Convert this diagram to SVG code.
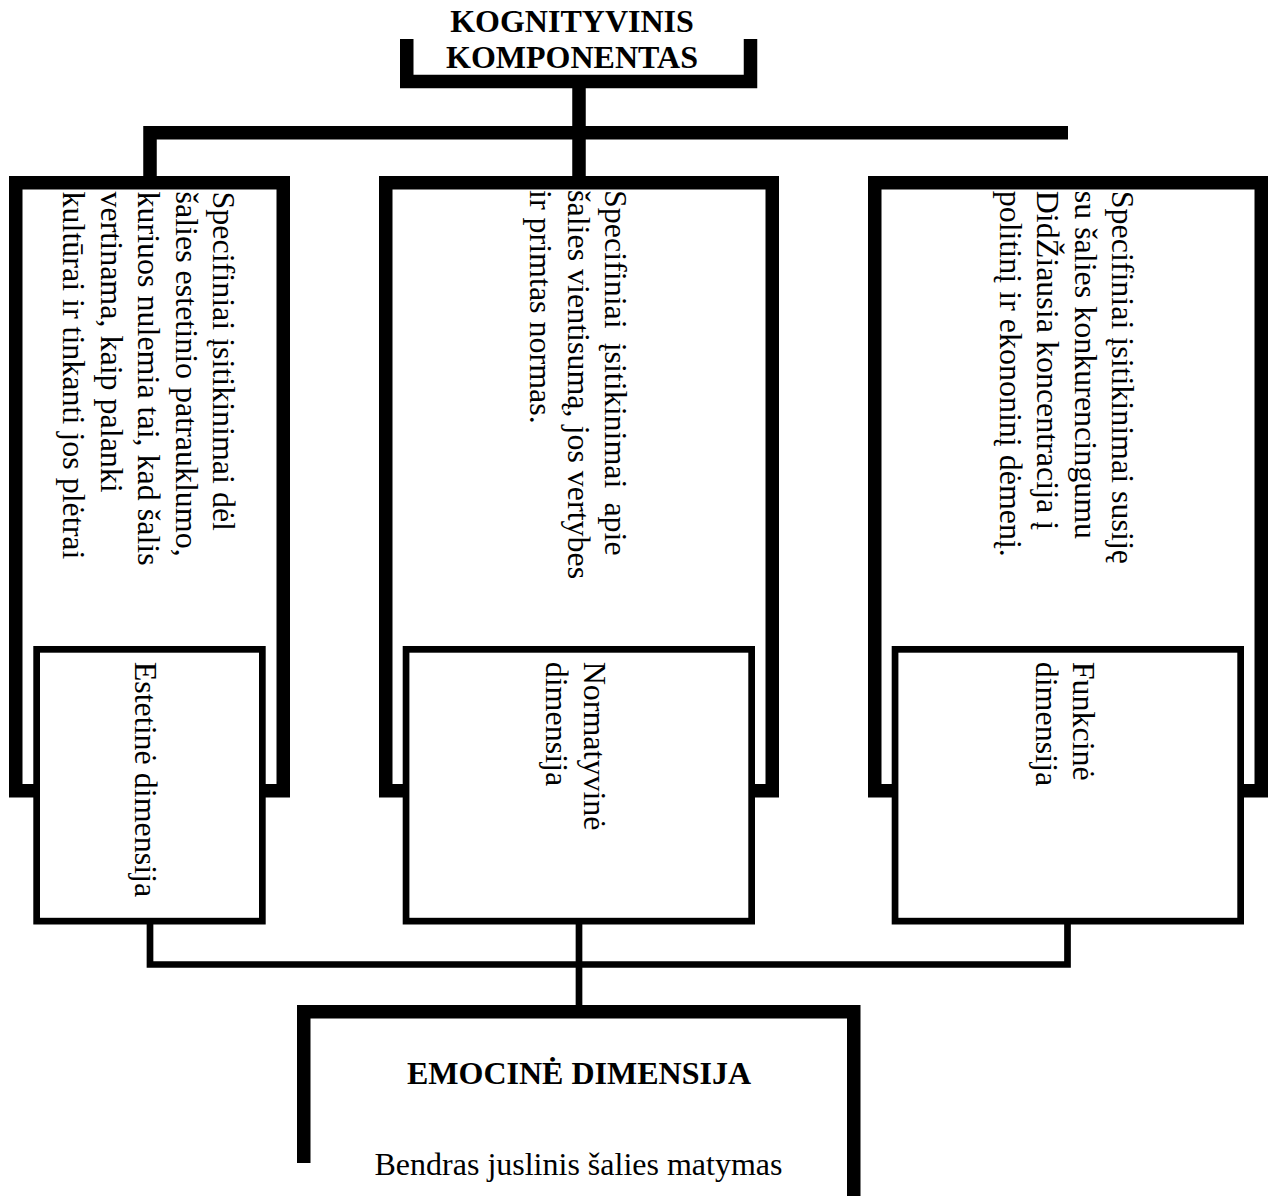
<svg xmlns="http://www.w3.org/2000/svg" width="1276" height="1196" viewBox="0 0 1276 1196">
<style>
.t{font-family:"Liberation Serif","Times New Roman",serif;font-size:32px;fill:#000}
.b{font-weight:bold}
.thick{fill:none;stroke:#000;stroke-width:13.5;stroke-linejoin:miter}
.thin{fill:none;stroke:#000;stroke-width:6.7;stroke-linejoin:miter}
.big{fill:#fff;stroke:#000;stroke-width:13.5}
.small{fill:#fff;stroke:#000;stroke-width:6.7}
</style>
<rect width="1276" height="1196" fill="#fff"/>
<g id="connectors">
<path class="thick" d="M579,88 V176"/>
<path class="thick" d="M150,176 V132.75 H1068"/>
<path class="thin" d="M150,924 V964.5 H1067.5 V924"/>
<path class="thin" d="M579,924 V1006"/>
</g>
<g id="kognityvinis">
<path class="thick" d="M406.75,39 V81.5 H750.5 V39"/>
<text class="t b" x="572" y="31.7" text-anchor="middle">KOGNITYVINIS</text>
<text class="t b" x="572" y="68.3" text-anchor="middle">KOMPONENTAS</text>
</g>
<g id="box-estetine">
<rect class="big" x="15.75" y="182.75" width="267.5" height="608"/>
<text class="t" transform="translate(213.3,191.5) rotate(90)">Specifiniai įsitikinimai dėl</text>
<text class="t" transform="translate(175.8,191.5) rotate(90)">šalies estetinio patrauklumo,</text>
<text class="t" transform="translate(138.3,191.5) rotate(90)">kuriuos nulemia tai, kad šalis</text>
<text class="t" transform="translate(100.8,191.5) rotate(90)">vertinama, kaip palanki</text>
<text class="t" transform="translate(63.3,191.5) rotate(90)">kultūrai ir tinkanti jos plėtrai</text>
</g>
<g id="box-normatyvine">
<rect class="big" x="385.75" y="182.75" width="386.5" height="608"/>
<text class="t" transform="translate(605,190) rotate(90)" word-spacing="6">Specifiniai įsitikinimai apie</text>
<text class="t" transform="translate(567.5,190) rotate(90)">šalies vientisumą, jos vertybes</text>
<text class="t" transform="translate(530,190) rotate(90)">ir primtas normas.</text>
</g>
<g id="box-funkcine">
<rect class="big" x="874.75" y="182.75" width="386.5" height="608"/>
<text class="t" transform="translate(1112,190.7) rotate(90)">Specifiniai įsitikinimai susiję</text>
<text class="t" transform="translate(1074.5,190.7) rotate(90)">su šalies konkurencingumu</text>
<text class="t" transform="translate(1037,190.7) rotate(90)">DidŽiausia koncentracija į</text>
<text class="t" transform="translate(999.5,190.7) rotate(90)">politinį ir ekononinį dėmenį.</text>
</g>
<g id="dim-estetine">
<rect class="small" x="36.65" y="649.35" width="225.7" height="271.8"/>
<text class="t" transform="translate(135,661.7) rotate(90)">Estetinė dimensija</text>
</g>
<g id="dim-normatyvine">
<rect class="small" x="406.05" y="649.35" width="345.6" height="271.8"/>
<text class="t" transform="translate(584,661.7) rotate(90)">Normatyvinė</text>
<text class="t" transform="translate(546,661.7) rotate(90)">dimensija</text>
</g>
<g id="dim-funkcine">
<rect class="small" x="895.05" y="649.35" width="345.6" height="271.8"/>
<text class="t" transform="translate(1073.3,661.7) rotate(90)">Funkcinė</text>
<text class="t" transform="translate(1035.5,661.7) rotate(90)">dimensija</text>
</g>
<g id="emocine">
<path class="thick" d="M303.75,1163 V1011.75 H853.75 V1200"/>
<text class="t b" x="579" y="1083.5" text-anchor="middle">EMOCINĖ DIMENSIJA</text>
<text class="t" x="578.5" y="1175" text-anchor="middle">Bendras juslinis šalies matymas</text>
</g>
</svg>
